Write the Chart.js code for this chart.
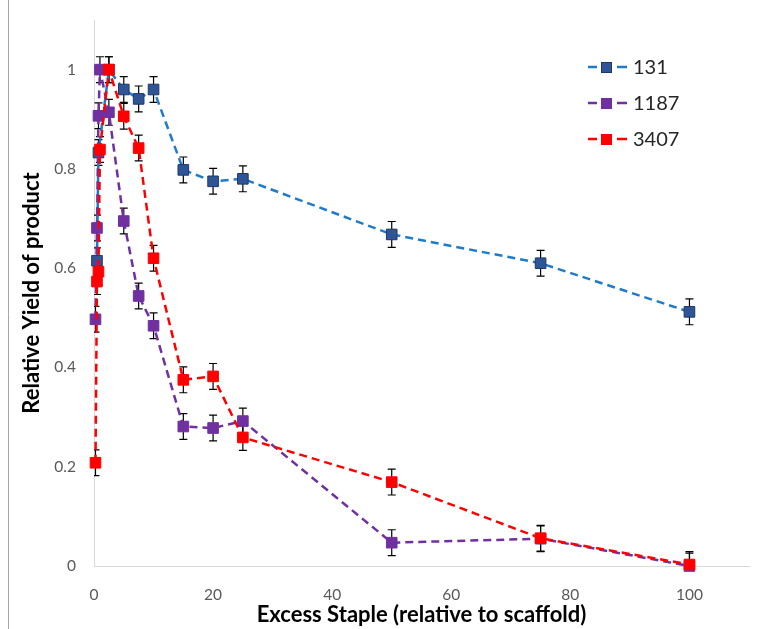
<!DOCTYPE html>
<html>
<head>
<meta charset="utf-8">
<script src="https://cdn.jsdelivr.net/npm/chart.js@4/dist/chart.umd.min.js"></script>
<style>
  html, body { margin: 0; padding: 0; background: #fff; }
  #wrap { position: relative; width: 763px; height: 629px; }
</style>
</head>
<body>
<div id="wrap"><canvas id="chart" width="763" height="629"></canvas></div>
<script>
(function () {
  'use strict';

  // --- data ---
  var seriesNames = ['131', '1187', '3407'];

  var x131 = [0.5, 0.75, 2.5, 5, 7.5, 10, 15, 20, 25, 50, 75, 100];
  var y131 = [0.615, 0.833, 1.0, 0.96, 0.941, 0.96, 0.798, 0.775, 0.78, 0.668, 0.61, 0.512];
  var e131 = [0.026, 0.026, 0.026, 0.026, 0.026, 0.026, 0.026, 0.026, 0.026, 0.026, 0.026, 0.026];

  var x1187 = [0.25, 0.5, 0.75, 1, 2.5, 5, 7.5, 10, 15, 20, 25, 50, 75, 100];
  var y1187 = [0.497, 0.681, 0.907, 1.0, 0.914, 0.695, 0.544, 0.484, 0.281, 0.278, 0.292, 0.047, 0.055, 0.0];
  var e1187 = [0.026, 0.026, 0.026, 0.026, 0.026, 0.026, 0.026, 0.026, 0.026, 0.026, 0.026, 0.026, 0.026, 0.026];

  var x3407 = [0.25, 0.5, 0.75, 1, 2.5, 5, 7.5, 10, 15, 20, 25, 50, 75, 100];
  var y3407 = [0.208, 0.573, 0.593, 0.839, 1.0, 0.906, 0.842, 0.62, 0.375, 0.382, 0.259, 0.169, 0.056, 0.003];
  var e3407 = [0.026, 0.026, 0.026, 0.026, 0.026, 0.026, 0.026, 0.026, 0.026, 0.026, 0.026, 0.026, 0.026, 0.026];

  var xTicks = [0, 20, 40, 60, 80, 100];
  var yTicks = [0, 0.2, 0.4, 0.6, 0.8, 1];

  var FONT = 'Lato, "Open Sans", sans-serif';

  function points(xs, ys) {
    return xs.map(function (x, i) { return { x: x, y: ys[i] }; });
  }

  function series(name, xs, ys, errs, lineColor, markColor, markBorder, order) {
    return {
      label: name,
      data: points(xs, ys),
      errors: errs,
      showLine: true,
      borderColor: lineColor,
      borderWidth: 2.5,
      borderDash: [8, 5],
      pointStyle: 'rect',
      pointRadius: 7.5,
      pointHoverRadius: 7.5,
      pointBackgroundColor: markColor,
      pointBorderColor: markBorder,
      pointBorderWidth: 1,
      legendMark: markColor,
      legendMarkBorder: markBorder,
      clip: false,
      order: order
    };
  }

  // --- error bars, drawn under the markers ---
  var errorBars = {
    id: 'errorBars',
    beforeDatasetsDraw: function (chart) {
      var ctx = chart.ctx;
      var xs = chart.scales.x, ys = chart.scales.y;
      var area = chart.chartArea;
      ctx.save();
      ctx.beginPath();
      ctx.rect(area.left, area.top - 10, area.right - area.left, area.bottom - area.top + 10);
      ctx.clip();
      ctx.strokeStyle = '#000';
      ctx.lineWidth = 1.2;
      chart.data.datasets.forEach(function (ds) {
        ds.data.forEach(function (p, i) {
          var px = xs.getPixelForValue(p.x);
          var top = ys.getPixelForValue(p.y + ds.errors[i]);
          var bot = ys.getPixelForValue(p.y - ds.errors[i]);
          ctx.beginPath();
          ctx.moveTo(px, top); ctx.lineTo(px, bot);
          ctx.moveTo(px - 4, top); ctx.lineTo(px + 4, top);
          ctx.moveTo(px - 4, bot); ctx.lineTo(px + 4, bot);
          ctx.stroke();
        });
      });
      ctx.restore();
    }
  };

  // --- legend inside the plot, top right ---
  var insideLegend = {
    id: 'insideLegend',
    afterDraw: function (chart) {
      var ctx = chart.ctx;
      ctx.save();
      chart.data.datasets.forEach(function (ds, i) {
        var cy = 67 + i * 36;
        ctx.strokeStyle = ds.borderColor;
        ctx.lineWidth = 2.5;
        ctx.beginPath();
        ctx.moveTo(588, cy); ctx.lineTo(597, cy);
        ctx.moveTo(617, cy); ctx.lineTo(627, cy);
        ctx.stroke();
        ctx.fillStyle = ds.legendMark;
        ctx.fillRect(601, cy - 5, 11, 11);
        ctx.strokeStyle = ds.legendMarkBorder;
        ctx.lineWidth = 1;
        ctx.strokeRect(601.5, cy - 4.5, 10, 10);
        ctx.fillStyle = '#262626';
        ctx.font = '20px ' + FONT;
        ctx.textBaseline = 'middle';
        ctx.fillText(ds.label, 633, cy + 1);
      });
      ctx.restore();
    }
  };

  // --- thin frame line on the left edge ---
  var frame = {
    id: 'frame',
    beforeDraw: function (chart) {
      var ctx = chart.ctx;
      ctx.save();
      ctx.strokeStyle = '#a6a6a6';
      ctx.lineWidth = 1;
      ctx.beginPath();
      ctx.moveTo(8.5, 0); ctx.lineTo(8.5, chart.height);
      ctx.stroke();
      ctx.restore();
    }
  };

  function keepTicks(list) {
    return function (axis) {
      axis.ticks = list.map(function (v) { return { value: v }; });
    };
  }

  new Chart(document.getElementById('chart'), {
    type: 'scatter',
    data: {
      datasets: [
        series(seriesNames[0], x131, y131, e131, '#1e7bcb', '#2f5597', '#1f3864', 3),
        series(seriesNames[1], x1187, y1187, e1187, '#7030a0', '#7030a0', '#7030a0', 2),
        series(seriesNames[2], x3407, y3407, e3407, '#ff0000', '#ff0000', '#ff0000', 1)
      ]
    },
    plugins: [frame, errorBars, insideLegend],
    options: {
      responsive: false,
      animation: false,
      events: [],
      layout: { padding: { left: 0, top: 20, right: 14, bottom: 0 } },
      plugins: {
        legend: { display: false },
        tooltip: { enabled: false }
      },
      scales: {
        x: {
          type: 'linear',
          min: 0,
          max: 110,
          afterBuildTicks: keepTicks(xTicks),
          afterFit: function (axis) { axis.height = 63; },
          grid: { display: false },
          border: { display: true, color: '#d9d9d9', width: 1 },
          ticks: {
            color: '#595959',
            font: { family: FONT, size: 15.5 },
            padding: 12,
            maxRotation: 0
          },
          title: {
            display: true,
            text: 'Excess Staple (relative to scaffold)',
            color: '#000',
            font: { family: FONT, size: 22, weight: 'bold' },
            padding: { top: 2, bottom: 1 }
          }
        },
        y: {
          type: 'linear',
          min: 0,
          max: 1.1,
          afterBuildTicks: keepTicks(yTicks),
          afterFit: function (axis) { axis.width = 94; },
          grid: { display: false },
          border: { display: true, color: '#d9d9d9', width: 1 },
          ticks: {
            color: '#595959',
            font: { family: FONT, size: 15.5 },
            padding: 10,
            callback: function (v) { return String(Math.round(v * 10) / 10); }
          },
          title: {
            display: true,
            text: 'Relative Yield of product',
            color: '#000',
            font: { family: FONT, size: 22, weight: 'bold' },
            padding: { top: 19, bottom: 0 }
          }
        }
      }
    }
  });
})();
</script>
</body>
</html>
